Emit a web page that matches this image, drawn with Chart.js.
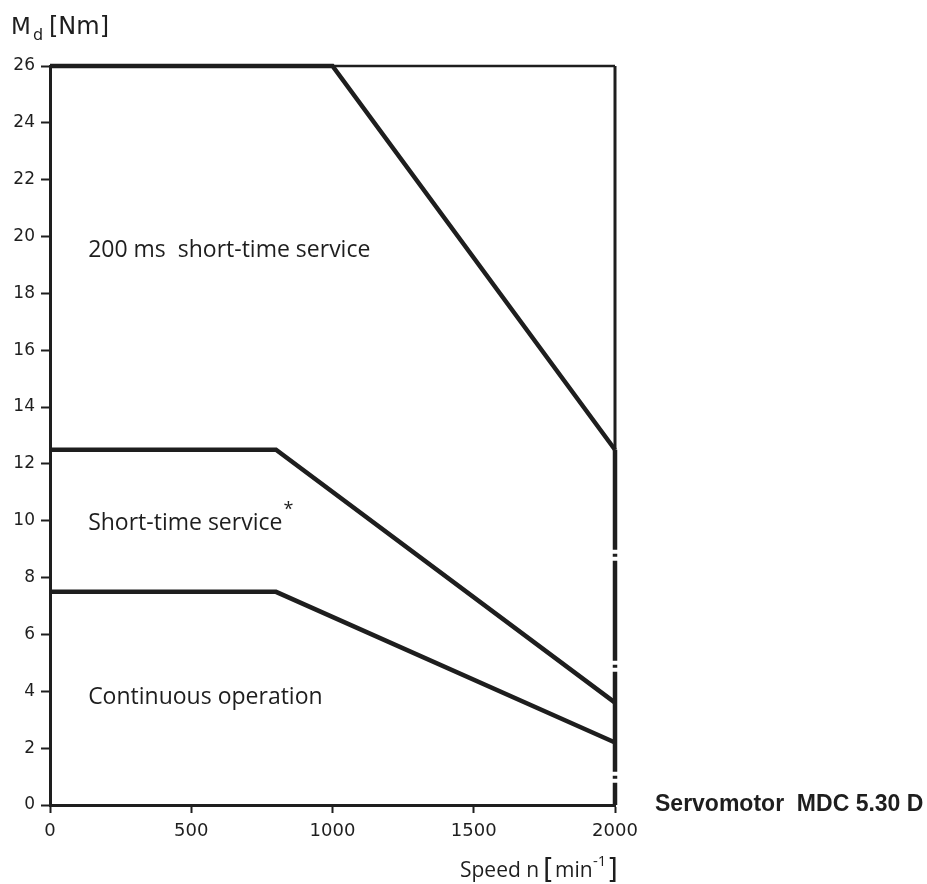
<!DOCTYPE html>
<html>
<head>
<meta charset="utf-8">
<script src="https://cdn.jsdelivr.net/npm/chart.js@4"></script>
<style>
  html, body { margin: 0; padding: 0; background: #fff; }
  #wrap { width: 927px; height: 884px; position: relative; }
</style>
</head>
<body>
<div id="wrap"><canvas id="chart" width="927" height="884"></canvas></div>
<script>
// ---- data ----
const xTicks = [0, 500, 1000, 1500, 2000];
const yTicks = [0, 2, 4, 6, 8, 10, 12, 14, 16, 18, 20, 22, 24, 26];

const speedShort200 = [0, 1000, 2000];
const torqueShort200 = [26, 26, 12.5];

const speedShort = [0, 800, 2000];
const torqueShort = [12.5, 12.5, 3.6];

const speedCont = [0, 800, 2000];
const torqueCont = [7.5, 7.5, 2.2];

// frame at top and right
const frameTopX = [0, 2000];
const frameTopY = [26, 26];
const frameRightX = [2000, 2000];
const frameRightY = [26, 12.5];
const limitX = [2000, 2000];
const limitY = [12.5, 0];

const regionLabels = [
  { x: 135, y: 19.5, text: "200 ms  short-time service" },
  { x: 135, y: 9.9, text: "Short-time service" },
  { x: 135, y: 3.8, text: "Continuous operation" },
];

const ink = "#1e1e1e";
const pts = (xs, ys) => xs.map((x, i) => ({ x, y: ys[i] }));

const labelsPlugin = {
  id: "labels",
  afterDraw(chart) {
    const { ctx, scales: { x, y } } = chart;
    ctx.save();
    ctx.fillStyle = ink;
    ctx.textBaseline = "middle";
    ctx.textAlign = "left";
    ctx.font = "23px 'Open Sans', sans-serif";
    regionLabels.forEach(l => {
      ctx.fillText(l.text, x.getPixelForValue(l.x), y.getPixelForValue(l.y));
    });
    // asterisk after "Short-time service"
    const sw = ctx.measureText(regionLabels[1].text).width;
    ctx.font = "18px 'Open Sans', sans-serif";
    ctx.fillText("*", x.getPixelForValue(135) + sw + 1, y.getPixelForValue(9.9) - 14);

    // y axis title  M_d [Nm]
    ctx.textBaseline = "alphabetic";
    ctx.font = "23px 'DejaVu Sans', sans-serif";
    ctx.fillText("M", 11, 34);
    ctx.font = "16px 'DejaVu Sans', sans-serif";
    ctx.fillText("d", 33, 40);
    ctx.font = "24px 'DejaVu Sans', sans-serif";
    ctx.fillText("[Nm]", 49, 34);

    // x axis title  Speed n [min⁻¹]
    ctx.font = "21px 'Open Sans', sans-serif";
    ctx.fillText("Speed n", 460, 877);
    ctx.font = "28px 'DejaVu Sans', sans-serif";
    ctx.fillText("[", 543, 879);
    ctx.font = "21px 'Open Sans', sans-serif";
    ctx.fillText("min", 555, 877);
    ctx.font = "15px 'Open Sans', sans-serif";
    ctx.fillText("-1", 593, 866);
    ctx.font = "28px 'DejaVu Sans', sans-serif";
    ctx.fillText("]", 607, 879);

    // motor name
    ctx.font = "bold 23px 'Liberation Sans', Arial, sans-serif";
    ctx.textBaseline = "middle";
    ctx.fillText("Servomotor  MDC 5.30 D", 655, 805);
    ctx.restore();
  }
};

const line = (data, width, extra) => Object.assign({
  data, borderColor: ink, borderWidth: width, pointRadius: 0, clip: false,
  tension: 0, fill: false, borderCapStyle: "butt", borderJoinStyle: "miter",
}, extra || {});

new Chart(document.getElementById("chart"), {
  type: "line",
  data: {
    datasets: [
      line(pts(frameTopX, frameTopY), 2.5),
      line(pts(frameRightX, frameRightY), 3),
      line(pts(limitX, limitY), 4.5, { borderDash: [100, 4, 3, 4] }),
      line(pts(speedShort200, torqueShort200), 4.5),
      line(pts(speedShort, torqueShort), 4.5),
      line(pts(speedCont, torqueCont), 4.5),
    ],
  },
  options: {
    responsive: false,
    animation: false,
    layout: { padding: { top: 66, right: 312, bottom: 0, left: 0 } },
    plugins: { legend: { display: false }, tooltip: { enabled: false } },
    scales: {
      x: {
        type: "linear", min: 0, max: 2000,
        afterFit: s => { s.height = 79; },
        afterBuildTicks: s => { s.ticks = xTicks.map(v => ({ value: v })); },
        grid: { drawOnChartArea: false, tickLength: 8, tickWidth: 2, color: ink },
        border: { color: ink, width: 3 },
        ticks: {
          color: ink, padding: 8, maxRotation: 0,
          font: { family: "'DejaVu Sans', sans-serif", size: 18 },
          callback: v => String(v),
        },
      },
      y: {
        type: "linear", min: 0, max: 26,
        afterFit: s => { s.width = 50; },
        afterBuildTicks: s => { s.ticks = yTicks.map(v => ({ value: v })); },
        grid: { drawOnChartArea: false, tickLength: 9, tickWidth: 2, color: ink },
        border: { color: ink, width: 3 },
        ticks: {
          color: ink, padding: 6,
          font: { family: "'DejaVu Sans', sans-serif", size: 17 },
          callback: v => String(v),
        },
      },
    },
  },
  plugins: [labelsPlugin],
});
</script>
</body>
</html>
